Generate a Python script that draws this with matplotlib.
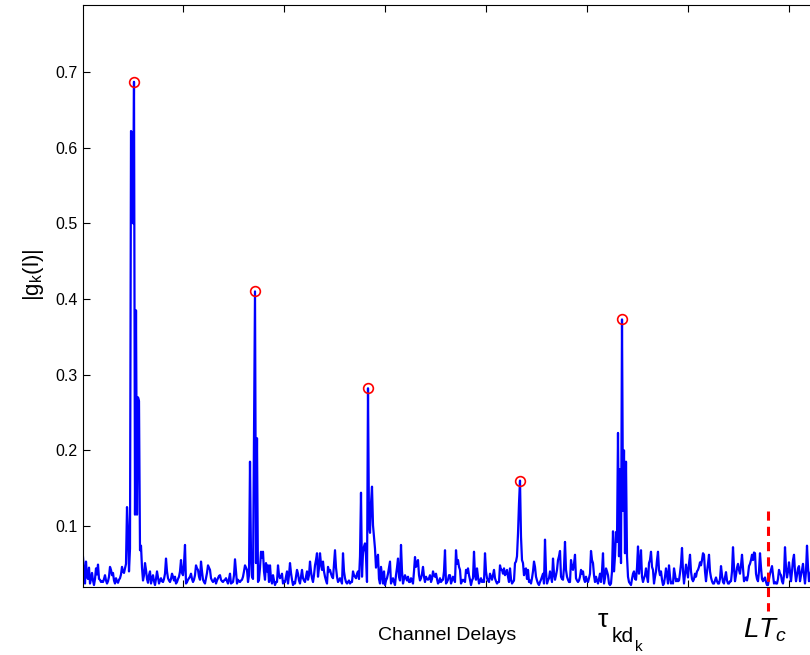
import numpy as np
import matplotlib
matplotlib.use('Agg')
import matplotlib.pyplot as plt

plt.rcParams['font.family'] = ['Liberation Sans', 'DejaVu Sans']
plt.rcParams['mathtext.fontset'] = 'custom'
plt.rcParams['mathtext.rm'] = 'Liberation Sans'
plt.rcParams['mathtext.it'] = 'Liberation Sans:italic'

# |g_k(l)| per delay sample, in thousandths
g_milli = [
    59, 40, 24, 53, 33, 30, 45, 24, 30, 38, 28, 22, 30, 44, 36, 49, 30, 29, 26, 27,
    26, 30, 35, 28, 24, 27, 33, 46, 42, 35, 38, 28, 24, 31, 27, 25, 29, 31, 36, 46,
    40, 38, 44, 50, 125, 95, 40, 70, 622, 620, 500, 687, 115, 385, 115, 270, 265, 68, 74, 45,
    28, 35, 51, 42, 30, 25, 35, 40, 24, 30, 35, 27, 22, 30, 40, 32, 24, 28, 31, 27,
    26, 30, 37, 57, 40, 31, 28, 26, 30, 37, 33, 28, 33, 24, 26, 30, 33, 40, 55, 38,
    35, 50, 75, 24, 26, 29, 31, 33, 37, 30, 26, 29, 35, 48, 44, 42, 33, 29, 53, 40,
    29, 26, 24, 31, 38, 48, 45, 42, 31, 28, 26, 28, 31, 24, 28, 31, 34, 35, 29, 27,
    26, 28, 29, 31, 27, 24, 30, 37, 24, 25, 26, 35, 56, 40, 24, 29, 27, 26, 28, 29,
    33, 40, 48, 45, 42, 26, 35, 185, 60, 33, 30, 230, 410, 51, 216, 26, 29, 45, 66, 58,
    66, 40, 29, 51, 40, 48, 26, 48, 30, 24, 35, 28, 22, 26, 26, 48, 35, 31, 33, 37,
    24, 27, 26, 33, 40, 24, 35, 51, 38, 29, 22, 26, 24, 33, 42, 37, 28, 24, 33, 42,
    31, 28, 26, 33, 40, 29, 35, 53, 40, 31, 26, 35, 48, 55, 64, 33, 45, 64, 50, 42,
    53, 40, 33, 28, 24, 46, 40, 42, 37, 33, 31, 50, 68, 45, 33, 26, 28, 31, 28, 24,
    64, 40, 31, 26, 24, 26, 28, 24, 26, 26, 40, 35, 33, 31, 37, 40, 30, 60, 144, 33,
    65, 73, 77, 60, 26, 282, 100, 91, 130, 152, 101, 85, 70, 45, 55, 62, 30, 24, 46, 35,
    24, 40, 22, 28, 31, 37, 45, 53, 24, 28, 31, 26, 22, 35, 45, 57, 33, 28, 75, 40,
    24, 30, 35, 31, 28, 33, 26, 26, 31, 28, 24, 40, 59, 46, 50, 55, 35, 28, 31, 37,
    46, 33, 26, 33, 30, 29, 31, 35, 26, 30, 40, 35, 33, 37, 30, 24, 26, 31, 26, 28,
    29, 40, 68, 24, 26, 29, 35, 35, 24, 28, 33, 30, 26, 68, 50, 55, 46, 42, 24, 27,
    29, 28, 26, 42, 38, 44, 35, 29, 22, 28, 31, 66, 35, 29, 44, 33, 24, 27, 31, 26,
    28, 26, 64, 40, 31, 28, 26, 37, 33, 29, 35, 42, 31, 27, 24, 26, 26, 48, 42, 42,
    37, 44, 35, 38, 42, 33, 26, 44, 30, 24, 26, 28, 51, 53, 60, 90, 130, 160, 86, 55,
    51, 35, 42, 44, 30, 42, 26, 28, 24, 31, 40, 53, 46, 33, 28, 24, 22, 26, 29, 33,
    37, 24, 82, 40, 24, 28, 31, 40, 33, 26, 57, 37, 29, 35, 42, 55, 60, 67, 33, 30,
    29, 45, 79, 42, 33, 29, 26, 26, 55, 46, 42, 50, 62, 31, 28, 26, 28, 33, 42, 37,
    40, 30, 26, 33, 28, 26, 31, 37, 67, 55, 51, 35, 26, 33, 28, 24, 30, 37, 26, 40,
    64, 24, 31, 44, 40, 35, 24, 22, 24, 40, 93, 40, 60, 92, 79, 223, 60, 175, 51, 373,
    120, 200, 64, 185, 60, 33, 26, 24, 22, 30, 37, 40, 30, 29, 45, 73, 37, 50, 68, 33,
    26, 31, 35, 44, 33, 26, 51, 55, 66, 46, 42, 24, 33, 40, 55, 66, 42, 35, 40, 29,
    22, 24, 33, 44, 35, 24, 48, 33, 24, 26, 24, 44, 36, 27, 30, 27, 28, 38, 50, 71,
    40, 24, 36, 49, 40, 32, 50, 62, 40, 30, 27, 30, 37, 33, 40, 42, 46, 52, 48, 55,
    64, 62, 40, 27, 40, 50, 62, 40, 32, 27, 24, 24, 28, 32, 27, 24, 24, 30, 47, 35,
    26, 24, 32, 39, 28, 24, 24, 27, 27, 40, 72, 45, 27, 35, 45, 50, 42, 37, 48, 62,
    44, 27, 30, 32, 28, 35, 47, 50, 55, 62, 55, 65, 64, 37, 30, 27, 40, 64, 45, 30,
    27, 30, 32, 26, 22, 22, 30, 37, 42, 47, 35, 24, 26, 24, 24, 30, 42, 37, 35, 27,
    24, 35, 72, 45, 32, 40, 52, 40, 27, 40, 55, 62, 40, 27, 35, 44, 47, 27, 35, 42,
    50, 35, 24, 40, 74, 45, 27, 35, 40, 30,
]
L_Tc = 685          # delay of the window end L*Tc
lt_top = 0.12       # top of the dashed marker

g = np.array(g_milli) / 1000.0
delays = np.arange(len(g))

# detected paths: local maxima above 0.15
peaks = [i for i in range(len(g))
         if g[i] > 0.15 and g[i] == g[max(0, i - 10):i + 11].max()]

fig = plt.figure(figsize=(8.1, 6.55), dpi=100)
ax = fig.add_axes([83 / 810, 1 - 587 / 655, 760 / 810, 582 / 655])

ax.plot(delays, g, color='b', lw=1.6)
ax.plot(delays[peaks], g[peaks], 'o', mfc='none', mec='r', ms=7, mew=1.2)
ax.plot([L_Tc, L_Tc], [lt_top, -0.0125], color='r', ls=(0, (3, 2)), lw=2.2,
        clip_on=False)

ax.set_xlim(0, 760)
ax.set_ylim(0.0194, 0.7885)
ax.set_xticks(100 + 101 * np.arange(7))
ax.set_xticklabels([])
ax.set_yticks(np.arange(1, 8) / 10)
ax.set_yticklabels(['0.1', '0.2', '0.3', '0.4', '0.5', '0.6', '0.7'])
ax.tick_params(direction='in', length=5, width=0.8, top=True, right=True,
               labelsize=11.5, pad=4)
for s in ax.spines.values():
    s.set_linewidth(0.8)

fig.text(447 / 810, 1 - 636 / 655, 'Channel Delays', ha='center', va='center',
         fontsize=14)
fig.text(33 / 810, 1 - 275 / 655, r'|g$_{\mathrm{k}}$(l)|', rotation=90,
         ha='center', va='center', fontsize=16)
fig.text(598 / 810, 1 - 620 / 655, 'τ', ha='left', va='center', fontsize=19)
fig.text(612 / 810, 1 - 636 / 655, 'kd', ha='left', va='center', fontsize=15)
fig.text(635 / 810, 1 - 647 / 655, 'k', ha='left', va='center', fontsize=11)
fig.text(765 / 810, 1 - 630 / 655, r'$LT_{c}$', ha='center', va='center',
         fontsize=20)

fig.savefig('out.png', dpi=100)
